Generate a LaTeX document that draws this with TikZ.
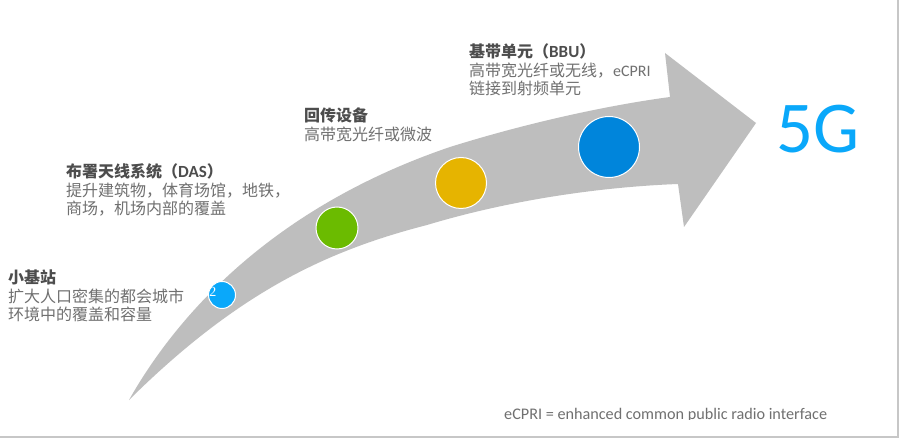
\documentclass[tikz,border=0pt]{standalone}
\usepackage{fontspec}
\setmainfont{Noto Sans CJK SC}
\newfontfamily\latinfont{Carlito}
\newfontfamily\numfont{Liberation Serif}
\usetikzlibrary{positioning}
\definecolor{arrowgray}{HTML}{BEBEBE}
\definecolor{headgray}{HTML}{4D4D4D}
\definecolor{bodygray}{HTML}{707070}
\definecolor{skyblue}{HTML}{0AA8FA}
\definecolor{leafgreen}{HTML}{6BBB00}
\definecolor{amber}{HTML}{E6B400}
\definecolor{deepblue}{HTML}{0085DB}
\tikzset{
  stage/.style = {circle,draw=white,line width=1pt,inner sep=0pt},
  caption/.style = {anchor=north west,align=left,inner sep=0pt,color=bodygray,
    font=\fontsize{16}{18}\selectfont},
}
\newcommand{\headtext}[1]{\textcolor{headgray}{\bfseries #1}}
\begin{document}
\begin{tikzpicture}[x=1pt,y=-1pt]
\useasboundingbox (0,0) rectangle (900,438);
\fill[white] (0,0) rectangle (900,438);
% page edge
\draw[color=black!22,line width=2.5pt] (898,0) to (898,437) to (0,437);
% the big arrow
\fill[arrowgray] (129,400) .. controls (163,340) and (250,215) .. (450,147)
  .. controls (530,122) and (610,105) .. (670,97)
  to (665,53) to (756,123) to (684,227) to (678,184)
  .. controls (600,187) and (510,200) .. (427,225)
  .. controls (330,250) and (240,290) .. (129,400) -- cycle;
% stages
\node[stage,fill=skyblue,minimum size=27pt] (small) at (222,295) {};
\node[stage,fill=leafgreen,minimum size=42pt] (das) at (337,228) {};
\node[stage,fill=amber,minimum size=51pt] (backhaul) at (461,183) {};
\node[stage,fill=deepblue,minimum size=61pt] (bbu) at (609,147) {};
\node[color=white,inner sep=0pt,font=\numfont\fontsize{14}{14}\selectfont] (num) at (210,292) {{\fontsize{7}{7}\selectfont 0}\hspace{2pt}2};
% captions
\node[caption] (smalltext) at (8,270) {\headtext{小基站}\\[1pt]
  扩大人口密集的都会城市\\环境中的覆盖和容量};
\node[caption] (dastext) at (66,163) {\headtext{布署天线系统（{\latinfont\fontsize{17}{18}\selectfont DAS}）}\\[1pt]
  提升建筑物，体育场馆，地铁，\\商场，机场内部的覆盖};
\node[caption] (backhaultext) at (304,108) {\headtext{回传设备}\\[1pt]
  高带宽光纤或微波};
\node[caption] (bbutext) at (469,43) {\headtext{基带单元（{\latinfont\fontsize{17}{18}\selectfont BBU}）}\\[1pt]
  高带宽光纤或无线，{\latinfont eCPRI}\\链接到射频单元};
\node[color=skyblue,inner sep=0pt,font=\latinfont\fontsize{73}{73}\selectfont] (fiveg) at (818,129) {5G};
% footnote is cut off at its lower edge
\begin{scope}
\clip (480,400) rectangle (880,419);
\node[anchor=base west,inner sep=0pt,color=bodygray,font=\latinfont\fontsize{16.2}{16.2}\selectfont] (note) at (504,419) {eCPRI = enhanced common public radio interface};
\end{scope}
\end{tikzpicture}
\end{document}
